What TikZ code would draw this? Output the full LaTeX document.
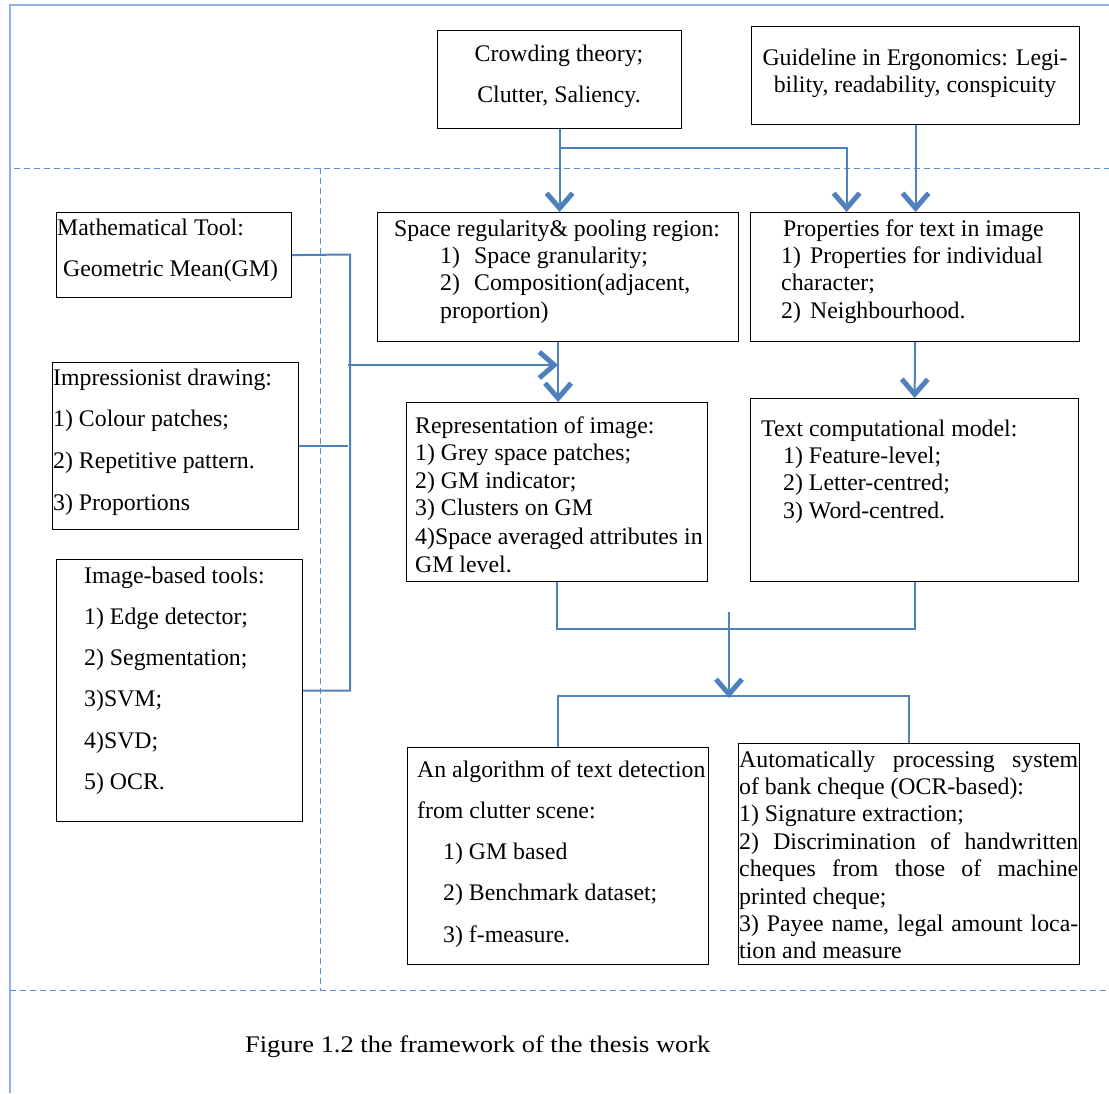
\documentclass[tikz,border=0pt]{standalone}
\usepackage{fontspec}
\setmainfont{Liberation Serif}
\usetikzlibrary{arrows.meta}

\definecolor{linkblue}{RGB}{79,129,189}
\definecolor{frameblue}{RGB}{141,179,226}
\definecolor{guideblue}{RGB}{91,143,208}

\newcommand{\lbl}[2]{\makebox[#1][l]{#2}}

\tikzset{
  box/.style={draw=black, line width=1.2pt, rectangle, inner sep=0pt, anchor=north west},
  txt/.style={inner sep=0pt, anchor=base west},
  ctxt/.style={inner sep=0pt, anchor=base},
  single/.style={font=\fontsize{23.8}{27.4}\selectfont},
  double/.style={font=\fontsize{23.8}{41.3}\selectfont},
  conn/.style={draw=linkblue, line width=2pt},
  arr/.style={conn, -{Straight Barb[length=15pt,width=26pt,line width=5pt]}},
  frame/.style={draw=frameblue, line width=1.5pt},
  divider/.style={draw=guideblue, line width=1pt, dash pattern=on 6pt off 4pt},
}

\begin{document}
\begin{tikzpicture}[x=1pt, y=-1pt]
\useasboundingbox (0,0) rectangle (1109,1093);

% page frame and section dividers
\draw[frame] (10,1093) -- (10,5) -- (1109,5);
\draw[divider] (14,168) -- (1109,168);
\draw[divider] (320,168) -- (320,990);
\draw[divider] (10,990) -- (1109,990);

% boxes
\node[box, minimum width=244pt, minimum height=98pt]  (crowd) at (437,30) {};
\node[box, minimum width=328pt, minimum height=98pt]  (guide) at (751,26) {};
\node[box, minimum width=235pt, minimum height=85pt]  (math)  at (56,212) {};
\node[box, minimum width=361pt, minimum height=129pt] (space) at (377,212) {};
\node[box, minimum width=329pt, minimum height=129pt] (props) at (750,212) {};
\node[box, minimum width=246pt, minimum height=167pt] (impr)  at (52,362) {};
\node[box, minimum width=246pt, minimum height=262pt] (tools) at (56,559) {};
\node[box, minimum width=301pt, minimum height=179pt] (repr)  at (406,402) {};
\node[box, minimum width=328pt, minimum height=183pt] (textm) at (750,398) {};
\node[box, minimum width=301pt, minimum height=217pt] (alg)   at (407,747) {};
\node[box, minimum width=341pt, minimum height=221pt] (auto)  at (738,743) {};

% box texts
\node[ctxt, double] (crowdtxt) at (559,61)
  {\parbox[t]{240pt}{\centering Crowding theory;\\Clutter, Saliency.}};
\node[ctxt, single] (guidetxt) at (915,65)
  {\parbox[t]{324pt}{\centering Guideline in Ergonomics: Legi-\\bility, readability, conspicuity}};
\node[txt, double] (mathtxt) at (57,235)
  {\parbox[t]{300pt}{Mathematical Tool:\\\hspace*{6pt}Geometric Mean(GM)}};
\node[txt, single] (spacetxt) at (394,236)
  {\parbox[t]{400pt}{Space regularity\& pooling region:\\
   \hspace*{46pt}\lbl{34pt}{1)}Space granularity;\\
   \hspace*{46pt}\lbl{34pt}{2)}Composition(adjacent,\\
   \hspace*{46pt}proportion)}};
\node[txt, single] (propstxt) at (781,236)
  {\parbox[t]{400pt}{\hspace*{2pt}Properties for text in image\\
   \lbl{29pt}{1)}Properties for individual\\
   character;\\
   \lbl{29pt}{2)}Neighbourhood.}};
\node[txt, font=\fontsize{23.8}{41.7}\selectfont] (imprtxt) at (53,385)
  {\parbox[t]{300pt}{Impressionist drawing:\\1) Colour patches;\\2) Repetitive pattern.\\3) Proportions}};
\node[txt, double] (toolstxt) at (84,583)
  {\parbox[t]{300pt}{Image-based tools:\\1) Edge detector;\\2) Segmentation;\\3)SVM;\\4)SVD;\\5) OCR.}};
\node[txt, font=\fontsize{23.8}{27.6}\selectfont] (reprtxt) at (415,433)
  {\parbox[t]{400pt}{Representation of image:\\1) Grey space patches;\\2) GM indicator;\\3) Clusters on GM\\[1.5pt]4)Space averaged attributes in\\GM level.}};
\node[txt, single] (textmtxt) at (761,436)
  {\parbox[t]{400pt}{Text computational model:\\
   \hspace*{22pt}1) Feature-level;\\
   \hspace*{22pt}2) Letter-centred;\\
   \hspace*{22pt}3) Word-centred.}};
\node[txt, double] (algtxt) at (417,777)
  {\parbox[t]{400pt}{An algorithm of text detection\\
   from clutter scene:\\
   \hspace*{26pt}1) GM based\\
   \hspace*{26pt}2) Benchmark dataset;\\
   \hspace*{26pt}3) f-measure.}};
\node[txt, single] (autotxt) at (739,767)
  {\parbox[t]{339pt}{%
   \makebox[339pt][s]{Automatically processing system}\\
   of bank cheque (OCR-based):\\
   1) Signature extraction;\\
   \makebox[339pt][s]{2) Discrimination of handwritten}\\
   \makebox[339pt][s]{cheques from those of machine}\\
   printed cheque;\\
   \makebox[339pt][s]{3) Payee name, legal amount loca-}\\
   tion and measure}};

% caption
\node[txt, font=\fontsize{23.8}{27}\selectfont] (caption) at (245,1052)
  {\scalebox{1.11}[1]{Figure 1.2 the framework of the thesis work}};

% top sources into the second row
\coordinate (split) at (crowd.south |- 0,148);
\draw[arr] (crowd.south) -- (crowd.south |- space.north);
\draw[arr] (split) -| ([xshift=-68.5pt]props.north);
\draw[arr] (guide.south) -- (guide.south |- props.north);

% left-hand tools gathered on one bus
\coordinate (busTop) at (350,254.5);
\coordinate (busIn) at (348,365);
\draw[conn] (math.east) -- (busTop) -- (busTop |- tools.east) -- (tools.east);
\draw[conn] (impr.east) -- (impr.east -| busIn);
\draw[arr] (busIn) -- (busIn -| space.south);

% second row to third row
\draw[arr] (space.south) -- (space.south |- repr.north);
\draw[arr] (props.south) -- (textm.north);

% merge of the two models
\draw[conn] (repr.south) -- ++(0,47) -| (textm.south);
\coordinate (mergeTop) at (729,612);
\coordinate (mergeEnd) at (729,698);
\draw[arr] (mergeTop) -- (mergeEnd);

% split to the applications
\draw[conn] (alg.north) -- ++(0,-51) -| (auto.north);

\end{tikzpicture}
\end{document}
